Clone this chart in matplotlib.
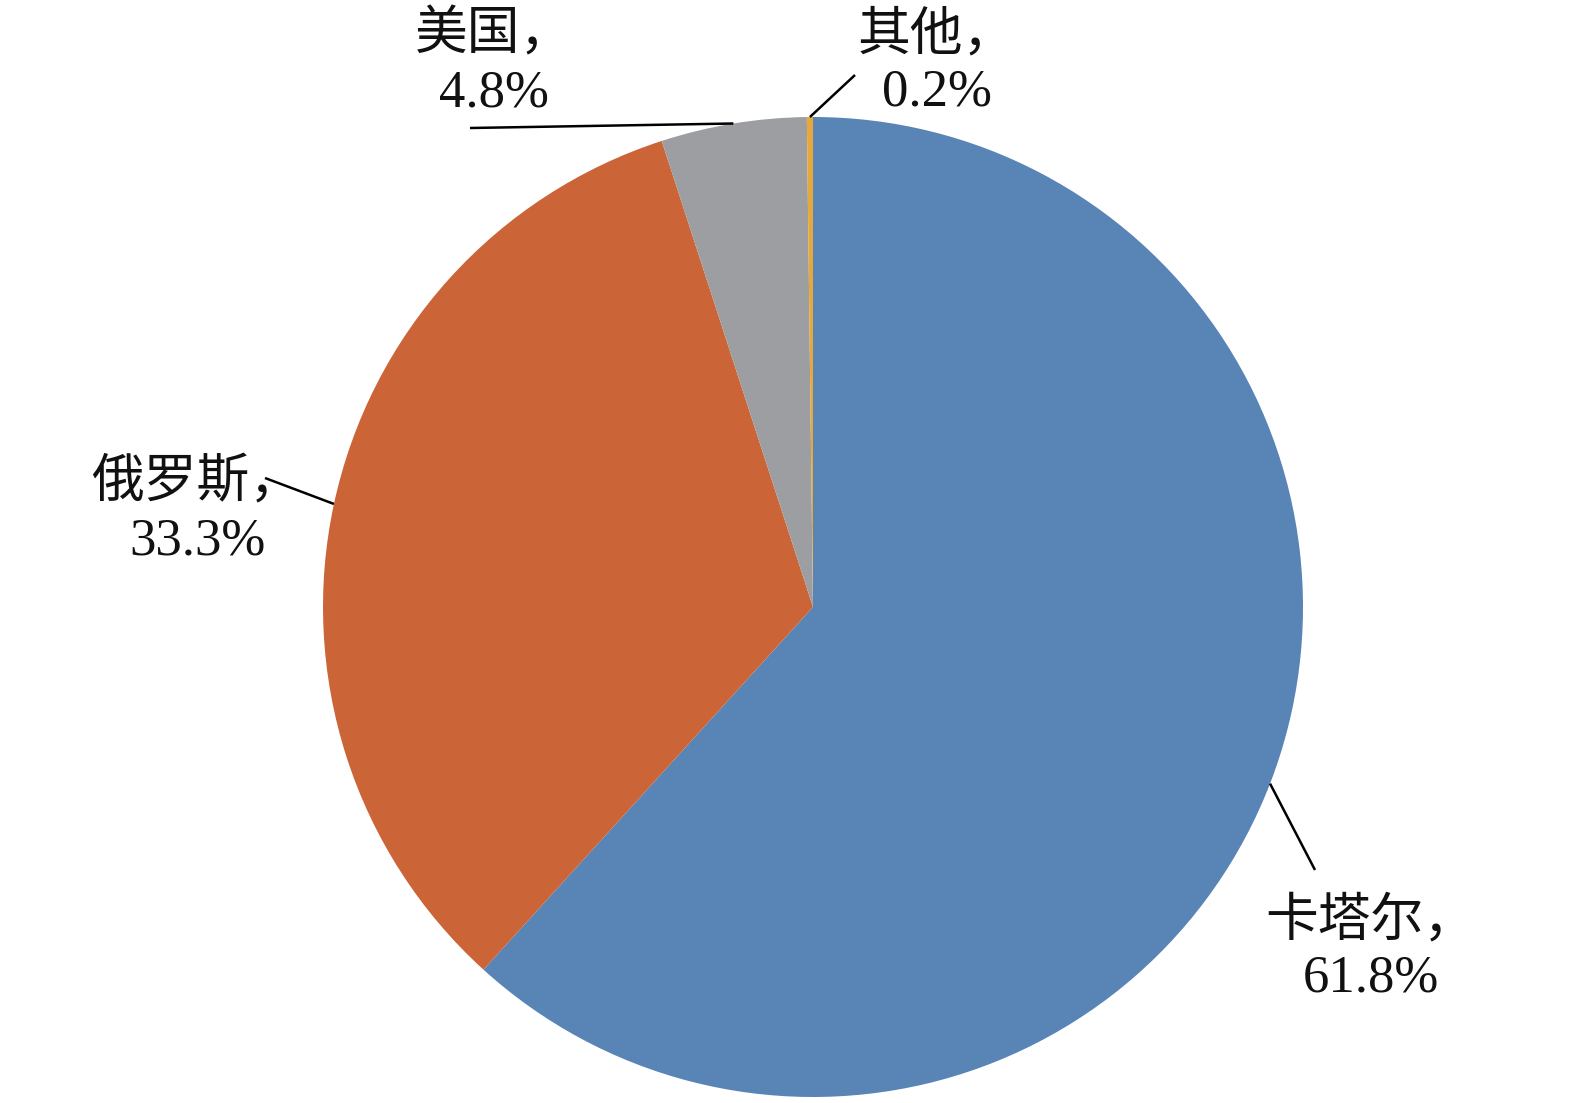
import matplotlib
matplotlib.use("Agg")
import matplotlib.pyplot as plt
import numpy as np

plt.rcParams['font.family'] = ['Liberation Serif', 'Noto Sans CJK SC']

countries = ["卡塔尔", "俄罗斯", "美国", "其他"]
shares = [61.8, 33.3, 4.8, 0.2]
colors = ["#5884b6", "#cb6538", "#9d9ea2", "#e6a83a"]

W, H = 1575, 1103
cx, cy, R = 813, 607, 490

# label block centre (pixels from top-left) and leader-line end point
label_pos = [(1371, 950), (197, 512), (494, 64), (937, 64)]
line_end = [(1315, 870), (265, 478), (470, 128), (855, 75)]


def py(y):
    return H - y


fig = plt.figure(figsize=(W / 100, H / 100), dpi=100)
ax = fig.add_axes([0, 0, 1, 1])

wedges, _ = ax.pie(shares, colors=colors, startangle=90, counterclock=False,
                   center=(cx, py(cy)), radius=R, frame=True,
                   wedgeprops=dict(linewidth=0))
ax.set_xlim(0, W)
ax.set_ylim(0, H)
ax.set_aspect("equal")
ax.axis("off")

for w, name, val, lp, le in zip(wedges, countries, shares, label_pos, line_end):
    ang = np.deg2rad((w.theta1 + w.theta2) / 2)
    x0 = cx + R * np.cos(ang)
    y0 = py(cy) + R * np.sin(ang)
    ax.plot([x0, le[0]], [y0, py(le[1])], color="black", lw=1.8,
            solid_capstyle="butt")
    ax.text(lp[0], py(lp[1]), f"{name}，\n{val:.1f}%", ha="center", va="center",
            fontsize=38, linespacing=1.22, color="#111111")

fig.savefig("out.png", dpi=100)
